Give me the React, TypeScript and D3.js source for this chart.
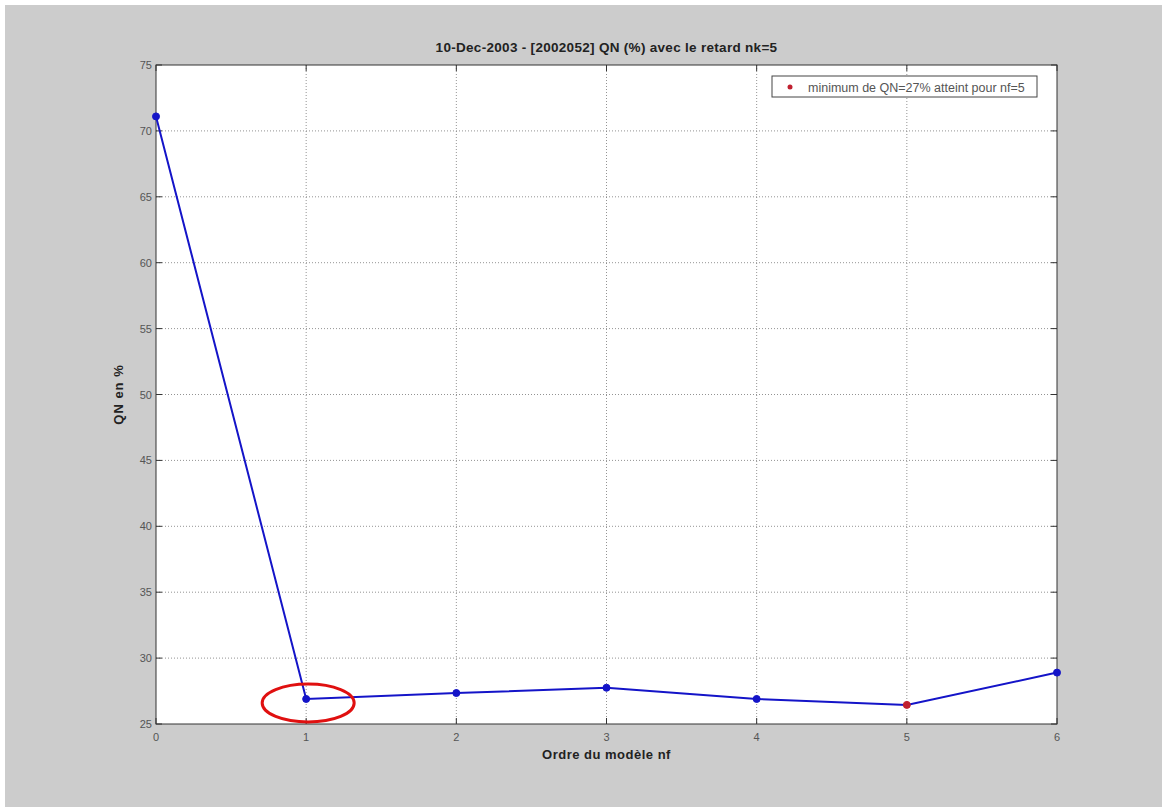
import * as d3 from "d3";

const orders = [0, 1, 2, 3, 4, 5, 6];
const qn = [71.1, 26.9, 27.35, 27.75, 26.9, 26.45, 28.9];
const xTicks = [0, 1, 2, 3, 4, 5, 6];
const yTicks = [25, 30, 35, 40, 45, 50, 55, 60, 65, 70, 75];
const minIndex = 5;
const highlightIndex = 1;

const W = 1162, H = 807;
const m = { left: 156, right: 1057, top: 65, bottom: 724 };

export default function App() {
  const x = d3.scaleLinear().domain([0, 6]).range([m.left, m.right]);
  const y = d3.scaleLinear().domain([25, 75]).range([m.bottom, m.top]);
  const line = d3.line<number>().x((_, i) => x(orders[i])).y((d) => y(d));
  const font = "Arial, 'Liberation Sans', sans-serif";

  return (
    <svg width={W} height={H} style={{ position: "absolute", left: 0, top: 0, background: "#fff" }}>
      <rect x={5} y={5} width={W - 5} height={H - 5} fill="#cccccc" />
      <rect x={m.left} y={m.top} width={m.right - m.left} height={m.bottom - m.top} fill="#fff" />
      {/* grid */}
      {xTicks.slice(1, -1).map((t) => (
        <line key={"gx" + t} x1={x(t)} x2={x(t)} y1={m.top} y2={m.bottom} stroke="#777" strokeWidth={0.8} strokeDasharray="1,2" />
      ))}
      {yTicks.slice(1, -1).map((t) => (
        <line key={"gy" + t} x1={m.left} x2={m.right} y1={y(t)} y2={y(t)} stroke="#777" strokeWidth={0.8} strokeDasharray="1,2" />
      ))}
      <rect x={m.left} y={m.top} width={m.right - m.left} height={m.bottom - m.top} fill="none" stroke="#333" strokeWidth={1} />
      {/* ticks */}
      {xTicks.map((t) => (
        <g key={"tx" + t}>
          <line x1={x(t)} x2={x(t)} y1={m.bottom} y2={m.bottom - 6} stroke="#333" />
          <line x1={x(t)} x2={x(t)} y1={m.top} y2={m.top + 6} stroke="#333" />
          <text x={x(t)} y={m.bottom + 17} textAnchor="middle" fontSize={11} fontFamily={font} fill="#555">{t}</text>
        </g>
      ))}
      {yTicks.map((t) => (
        <g key={"ty" + t}>
          <line x1={m.left} x2={m.left + 6} y1={y(t)} y2={y(t)} stroke="#333" />
          <line x1={m.right} x2={m.right - 6} y1={y(t)} y2={y(t)} stroke="#333" />
          <text x={m.left - 4} y={y(t) + 4} textAnchor="end" fontSize={11} fontFamily={font} fill="#555">{t}</text>
        </g>
      ))}
      {/* series */}
      <path d={line(qn) ?? ""} fill="none" stroke="#1414c8" strokeWidth={2} />
      {qn.map((v, i) => (
        <circle key={"p" + i} cx={x(orders[i])} cy={y(v)} r={3.5} fill={i === minIndex ? "#c02030" : "#1414c8"} stroke={i === minIndex ? "#c02030" : "#1414c8"} />
      ))}
      <ellipse cx={x(orders[highlightIndex]) + 2} cy={y(qn[highlightIndex]) + 4} rx={46} ry={19} fill="none" stroke="#e01010" strokeWidth={3} />
      {/* title and labels */}
      <text x={(m.left + m.right) / 2} y={52} textAnchor="middle" fontSize={13.5} fontWeight="bold" fontFamily={font} fill="#222" letterSpacing={0.3}>10-Dec-2003 - [2002052] QN (%) avec le retard nk=5</text>
      <text x={(m.left + m.right) / 2} y={m.bottom + 35} textAnchor="middle" fontSize={13} fontWeight="bold" fontFamily={font} fill="#222" letterSpacing={0.5}>Ordre du modèle nf</text>
      <text transform={`translate(${m.left - 33},${(m.top + m.bottom) / 2}) rotate(-90)`} textAnchor="middle" fontSize={13} fontWeight="bold" fontFamily={font} fill="#222" letterSpacing={1}>QN en %</text>
      {/* legend */}
      <rect x={772} y={76} width={265} height={21} fill="#fff" stroke="#444" strokeWidth={1} />
      <circle cx={790} cy={87} r={2.5} fill="#c02030" />
      <text x={808} y={91.5} fontSize={12.5} fontFamily={font} fill="#555">minimum de QN=27% atteint pour nf=5</text>
    </svg>
  );
}
